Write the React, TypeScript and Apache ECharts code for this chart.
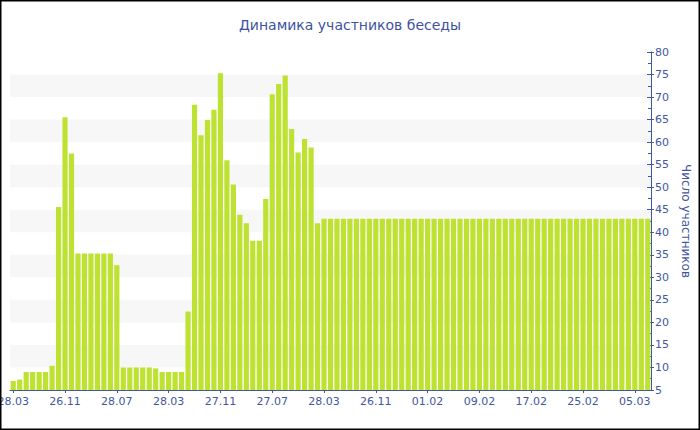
import React, { useEffect, useRef } from "react";
import * as echarts from "echarts";

const titleText = "Динамика участников беседы";
const yAxisName = "Число участников";

const categories = [
  "28.03", "28.04", "28.05", "28.06", "28.07", "28.08", "28.09", "28.10",
  "26.11", "26.12", "26.01", "26.02", "28.03", "28.04", "28.05", "28.06",
  "28.07", "28.08", "28.09", "28.10", "28.11", "28.12", "28.01", "28.02",
  "28.03", "28.04", "28.05", "28.06", "28.07", "28.08", "28.09", "28.10",
  "27.11", "27.12", "27.01", "27.02", "27.03", "27.04", "27.05", "27.06",
  "27.07", "27.08", "27.09", "27.10", "27.11", "27.12", "27.01", "27.02",
  "28.03", "28.04", "28.05", "28.06", "28.07", "28.08", "28.09", "28.10",
  "26.11", "26.12", "25.01", "27.01", "28.01", "29.01", "30.01", "31.01",
  "01.02", "02.02", "03.02", "04.02", "05.02", "06.02", "07.02", "08.02",
  "09.02", "10.02", "11.02", "12.02", "13.02", "14.02", "15.02", "16.02",
  "17.02", "18.02", "19.02", "20.02", "21.02", "22.02", "23.02", "24.02",
  "25.02", "26.02", "27.02", "28.02", "01.03", "02.03", "03.03", "04.03",
  "05.03", "06.03", "07.03",
];

const participants = [
  7, 7.3, 9, 9, 9, 9, 10.4, 45.6,
  65.5, 57.5, 35.3, 35.3, 35.3, 35.3, 35.3, 35.3,
  32.7, 10, 10, 10, 10, 10, 9.8, 9,
  9, 9, 9, 22.4, 68.3, 61.5, 64.9, 67.2,
  75.3, 56.0, 50.6, 43.9, 42.0, 38.1, 38.1, 47.4,
  70.6, 72.9, 74.8, 62.9, 57.7, 60.7, 58.8, 42.0,
  43, 43, 43, 43, 43, 43, 43, 43,
  43, 43, 43, 43, 43, 43, 43, 43,
  43, 43, 43, 43, 43, 43, 43, 43,
  43, 43, 43, 43, 43, 43, 43, 43,
  43, 43, 43, 43, 43, 43, 43, 43,
  43, 43, 43, 43, 43, 43, 43, 43,
  43, 43, 43,
];

const yMin = 5;
const yMax = 80;
const yStep = 5;

export default function App() {
  const ref = useRef<HTMLDivElement>(null);
  useEffect(() => {
    if (!ref.current) return;
    const chart = echarts.init(ref.current, null, { renderer: "svg" });
    const font = "DejaVu Sans";
    const blue = "#4257a0";
    chart.setOption({
      animation: false,
      backgroundColor: "#ffffff",
      textStyle: { fontFamily: font },
      title: {
        text: titleText,
        left: "center",
        top: 13,
        textStyle: { fontFamily: font, fontSize: 14, fontWeight: "normal", color: "#3d52a0" },
      },
      graphic: [
        {
          type: "rect",
          shape: { x: 0, y: 0, width: 700, height: 430 },
          style: { fill: "none", stroke: "#000", lineWidth: 3 },
          silent: true,
          z: 100,
        },
      ],
      grid: { left: 10, right: 49, top: 52, bottom: 40, containLabel: false, outerBoundsMode: "none" },
      xAxis: {
        type: "category",
        data: categories,
        axisLine: { show: true, lineStyle: { color: blue, width: 1 } },
        axisTick: { show: true, interval: 7, alignWithLabel: true, length: 3, lineStyle: { color: blue } },
        axisLabel: { interval: 7, color: blue, fontSize: 11, fontFamily: font, margin: 6, hideOverlap: false },
        splitLine: { show: false },
      },
      yAxis: [
        {
          type: "value",
          position: "right",
          min: yMin,
          max: yMax,
          interval: yStep,
          name: yAxisName,
          nameLocation: "middle",
          nameRotate: -90,
          nameGap: 26,
          nameTextStyle: { color: blue, fontSize: 12, fontFamily: font },
          axisLine: { show: true, lineStyle: { color: blue, width: 1 } },
          axisTick: { show: true, inside: true, length: 4, lineStyle: { color: blue } },
          minorTick: { show: true, splitNumber: 2, length: 3, lineStyle: { color: blue } },
          axisLabel: { color: blue, fontSize: 11, fontFamily: font, margin: 4 },
          splitLine: { show: false },
          splitArea: { show: true, areaStyle: { color: ["rgba(255,255,255,0)", "#f7f7f7"] } },
        },
        {
          type: "value",
          position: "right",
          min: yMin,
          max: yMax,
          interval: yStep,
          axisLine: { show: false },
          axisTick: { show: true, inside: false, length: 3, lineStyle: { color: blue } },
          axisLabel: { show: false },
          splitLine: { show: false },
          splitArea: { show: false },
        },
      ],
      series: [
        {
          type: "bar",
          data: participants,
          yAxisIndex: 0,
          clip: true,
          barCategoryGap: "20%",
          itemStyle: { color: "#bde232" },
        },
      ],
    });
    return () => chart.dispose();
  }, []);
  return (
    <div
      ref={ref}
      style={{ position: "fixed", left: 0, top: 0, width: 700, height: 430 }}
    />
  );
}
